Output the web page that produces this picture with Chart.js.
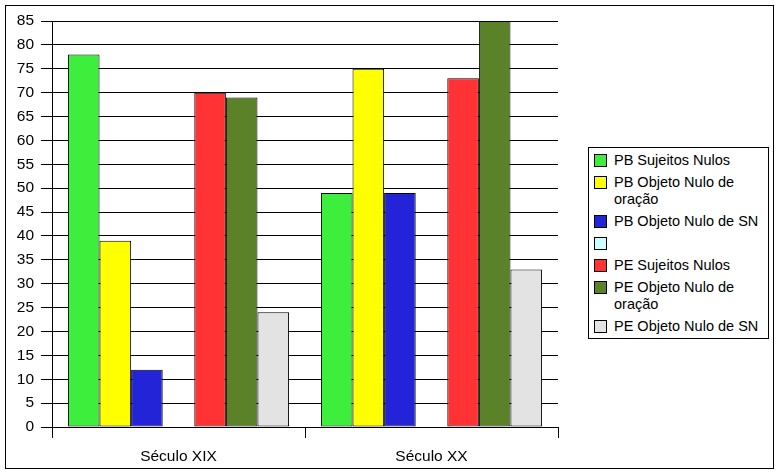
<!DOCTYPE html>
<html lang="pt">
<head>
    <meta charset="UTF-8">
    <title>Sujeitos e objetos nulos</title>
    <script src="https://cdn.jsdelivr.net/npm/chart.js"></script>
    <style>
        body { margin: 0; background: #fff; }
        #wrap { position: relative; width: 776px; height: 473px; }
        #legend {
            position: absolute; left: 588px; top: 147px; width: 169px;
            border: 1px solid #000; background: #fff; padding: 4px 5px 3px 5px;
            font-family: "Liberation Sans", Arial, sans-serif; font-size: 14.5px;
            line-height: 17px; color: #000;
        }
        .item { display: flex; align-items: flex-start; margin-bottom: 5px; }
        .item:last-child { margin-bottom: 0; }
        .box { width: 11px; height: 11px; border: 1px solid #000; margin-top: 2px; margin-right: 7px; flex: none; }
        .txt { width: 150px; }
    </style>
</head>
<body>
    <div id="wrap">
        <canvas id="myChart" width="776" height="473"></canvas>
        <div id="legend"></div>
    </div>
    <script>
        var categorias = ['Século XIX', 'Século XX'];

        var series = [
            'PB Sujeitos Nulos',
            'PB Objeto Nulo de oração',
            'PB Objeto Nulo de SN',
            '',
            'PE Sujeitos Nulos',
            'PE Objeto Nulo de oração',
            'PE Objeto Nulo de SN'
        ];

        var pbSujeitos = [78, 49];
        var pbObjOracao = [39, 75];
        var pbObjSN = [12, 49];
        var vazio = [null, null];
        var peSujeitos = [70, 73];
        var peObjOracao = [69, 85];
        var peObjSN = [24, 33];

        var cores = ['#3dee3d', '#ffff00', '#2323d8', '#ccffff', '#ff3333', '#5b8228', '#e3e3e3'];
        var valores = [pbSujeitos, pbObjOracao, pbObjSN, vazio, peSujeitos, peObjOracao, peObjSN];

        // moldura em volta do gráfico inteiro
        var moldura = {
            id: 'moldura',
            beforeDraw: function(chart) {
                var c = chart.ctx;
                c.save();
                c.fillStyle = '#fff';
                c.fillRect(0, 0, chart.width, chart.height);
                c.strokeStyle = '#000';
                c.lineWidth = 1;
                c.strokeRect(5.5, 5.5, 768, 463);
                c.restore();
            }
        };

        var fonte = { family: '"Liberation Sans", Arial, sans-serif', size: 15.5 };

        var ctx = document.getElementById('myChart').getContext('2d');
        var myChart = new Chart(ctx, {
            type: 'bar',
            data: {
                labels: categorias,
                datasets: series.map(function(nome, i) {
                    return {
                        label: nome,
                        data: valores[i],
                        backgroundColor: cores[i],
                        borderColor: '#000',
                        borderWidth: 1,
                        borderSkipped: false,
                        categoryPercentage: 0.874,
                        barPercentage: 1
                    };
                })
            },
            options: {
                responsive: false,
                animation: false,
                layout: { padding: { left: 0, top: 21, right: 218, bottom: 0 } },
                plugins: {
                    legend: { display: false },
                    tooltip: { enabled: false }
                },
                scales: {
                    x: {
                        afterFit: function(scale) { scale.height = 46; },
                        grid: {
                            drawOnChartArea: false,
                            tickLength: 11,
                            color: function(c) { return c.index === 2 ? 'rgba(0,0,0,0)' : '#000'; }
                        },
                        border: { color: '#000', width: 1 },
                        ticks: { color: '#000', font: fonte, padding: 9 }
                    },
                    y: {
                        min: 0,
                        max: 85,
                        afterFit: function(scale) { scale.width = 52; },
                        grid: { color: '#000', tickLength: 11 },
                        border: { color: '#000', width: 1 },
                        ticks: { stepSize: 5, color: '#000', font: fonte, padding: 7 }
                    }
                }
            },
            plugins: [moldura]
        });

        // legenda em HTML, para permitir quebra de linha nos nomes
        var leg = document.getElementById('legend');
        myChart.data.datasets.forEach(function(ds) {
            var item = document.createElement('div');
            item.className = 'item';
            var box = document.createElement('div');
            box.className = 'box';
            box.style.background = ds.backgroundColor;
            var txt = document.createElement('div');
            txt.className = 'txt';
            txt.innerHTML = ds.label === '' ? '&nbsp;' : ds.label;
            item.appendChild(box);
            item.appendChild(txt);
            leg.appendChild(item);
        });
    </script>
</body>
</html>
